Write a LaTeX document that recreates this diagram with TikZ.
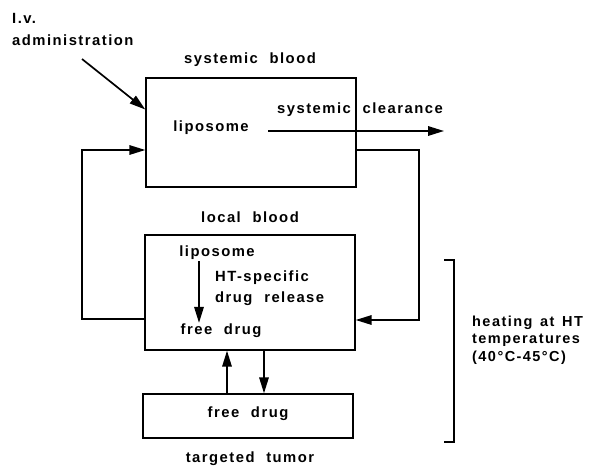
\documentclass[tikz,border=0pt]{standalone}
\usepackage{fontspec}
\setmainfont{Liberation Sans}[LetterSpace=10, WordSpace=2.1]
\newfontfamily\heatfont{Liberation Sans}[LetterSpace=10, WordSpace=1.4]
\usetikzlibrary{arrows.meta,positioning}

\tikzset{
    compartment/.style={draw, line width=1.4pt, minimum width=210pt, inner sep=0pt},
    lbl/.style={font=\bfseries\fontsize{14.8}{21}\selectfont, inner sep=1pt},
    flow/.style={line width=1.7pt, -{Triangle[length=16pt,width=9.5pt]}},
}

\begin{document}
\begin{tikzpicture}[x=1pt, y=-1pt]
            \useasboundingbox (0,0) rectangle (590,466);

            \node[compartment, minimum height=109pt] (sysbox) at (251,132.5) {};
            \node[compartment, minimum height=115pt] (locbox) at (250,292.5) {};
            \node[compartment, minimum height=44pt] (tumbox) at (248,416) {};

            \node[lbl, anchor=west] (iv) at (11,18) {I.v.};
            \node[lbl, anchor=west] (admin) at (11,40) {administration};
            \node[lbl] (sysblood) at (250,60) {systemic blood};
            \node[lbl] (lipoA) at (211,128) {liposome};
            \node[lbl] (clear) at (360,110) {systemic clearance};
            \node[lbl] (locblood) at (250,217) {local blood};
            \node[lbl] (lipoB) at (217,253) {liposome};
            \node[lbl, anchor=west, align=left] (release) at (214,288) {HT-specific\\drug release};
            \node[lbl] (freeA) at (221,331) {free drug};
            \node[lbl] (freeB) at (248,414) {free drug};
            \node[lbl] (tumor) at (250,459) {targeted tumor};
            \node[lbl, font=\heatfont\bfseries\fontsize{14.5}{17.5}\selectfont, anchor=west, align=left] (heat) at (471,340) {heating at HT\\temperatures\\(40°C-45°C)};

            \coordinate (ivtail) at (82,59);
            \coordinate (clearstart) at (268,131);
            \coordinate (clearend) at (444,131);

            \draw[flow] (ivtail) -- ([yshift=23pt]sysbox.west);
            \draw[flow] (clearstart) -- (clearend);
            \draw[flow] (locbox.west |- 0,319) -| (82,150) -- (sysbox.west |- 0,150);
            \draw[flow] (sysbox.east |- 0,150) -| (419,320) -- (locbox.east |- 0,320);
            \draw[flow] (lipoB.south -| 199,0) -- (freeA.north -| 199,0);
            \draw[flow] (tumbox.north -| 227,0) -- (locbox.south -| 227,0);
            \draw[flow] (locbox.south -| 264,0) -- (tumbox.north -| 264,0);

            \draw[line width=1.4pt] (444,260) -- (454,260) -- (454,442) -- (444,442);
\end{tikzpicture}
\end{document}
